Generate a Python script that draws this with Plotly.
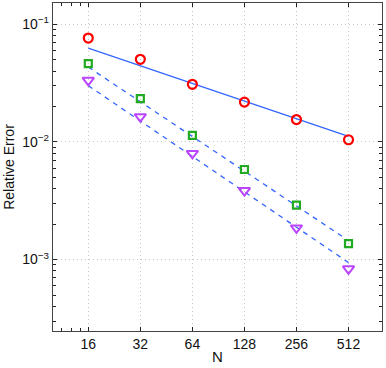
import plotly.graph_objects as go

# values
N = [16, 32, 64, 128, 256, 512]
err_circle = [0.0764, 0.0504, 0.0309, 0.0218, 0.0155, 0.01044]
err_square = [0.0463, 0.0233, 0.01135, 0.00583, 0.0029, 0.001368]
err_triangle = [0.0334, 0.0164, 0.00798, 0.00386, 0.00186, 0.000834]

# reference fit lines (end points at N=16 and N=512)
fit_N = [16, 512]
fit_circle = [0.0628, 0.01114]
fit_square = [0.0433, 0.00145]
fit_triangle = [0.0301, 0.000943]

x_ticks = [16, 32, 64, 128, 256, 512]
y_ticks = [1e-3, 1e-2, 1e-1]
y_ticktext = ["10<sup>−3</sup>", "10<sup>−2</sup>", "10<sup>−1</sup>"]

blue = "#3366ff"
font_name = "Liberation Sans, Arial"

fig = go.Figure()
fig.add_trace(go.Scatter(x=fit_N, y=fit_circle, mode="lines",
                         line=dict(color=blue, width=1.3)))
fig.add_trace(go.Scatter(x=fit_N, y=fit_square, mode="lines",
                         line=dict(color=blue, width=1.3, dash="5px,5px")))
fig.add_trace(go.Scatter(x=fit_N, y=fit_triangle, mode="lines",
                         line=dict(color=blue, width=1.3, dash="5px,5px")))
fig.add_trace(go.Scatter(x=N, y=err_circle, mode="markers",
                         marker=dict(symbol="circle-open", size=9, color="#ff0000",
                                     line=dict(width=2.2))))
fig.add_trace(go.Scatter(x=N, y=err_square, mode="markers",
                         marker=dict(symbol="square-open", size=7, color="#22aa22",
                                     line=dict(width=2.2))))
fig.add_trace(go.Scatter(x=N, y=err_triangle, mode="markers",
                         marker=dict(symbol="triangle-down-open", size=10, color="#bb44ff",
                                     line=dict(width=2))))

axis_common = dict(
    showline=True, linecolor="#444", linewidth=1.3, mirror="allticks",
    ticks="inside", ticklen=4, tickcolor="#222",
    showgrid=True, gridcolor="#c8c8c8", griddash="1px,3px", gridwidth=1,
    zeroline=False,
)

fig.update_xaxes(type="log", range=[1.0, 2.903], tickvals=x_ticks,
                 ticktext=[str(v) for v in x_ticks],
                 tickfont=dict(family=font_name, size=14, color="#111"),
                 title=dict(text="N", standoff=0,
                            font=dict(family=font_name, size=15, color="#111")),
                 minor=dict(tickvals=[11.2, 12.8, 14.5], ticks="inside", ticklen=3,
                            tickcolor="#222", showgrid=False),
                 **axis_common)
fig.update_yaxes(type="log", range=[-3.607, -0.819], tickvals=y_ticks,
                 ticktext=y_ticktext,
                 tickfont=dict(family=font_name, size=14, color="#111"),
                 title=dict(text="Relative Error", standoff=4,
                            font=dict(family=font_name, size=14, color="#111")),
                 minor=dict(ticks="inside", ticklen=3, tickcolor="#222", showgrid=False,
                            dtick="D1"),
                 **axis_common)

fig.update_layout(width=386, height=368, showlegend=False,
                  margin=dict(l=53, r=4, t=3, b=37, autoexpand=False),
                  plot_bgcolor="white", paper_bgcolor="white")

fig.write_html("out.html", config={"displayModeBar": False},
               post_script="document.body.style.margin='0';")
